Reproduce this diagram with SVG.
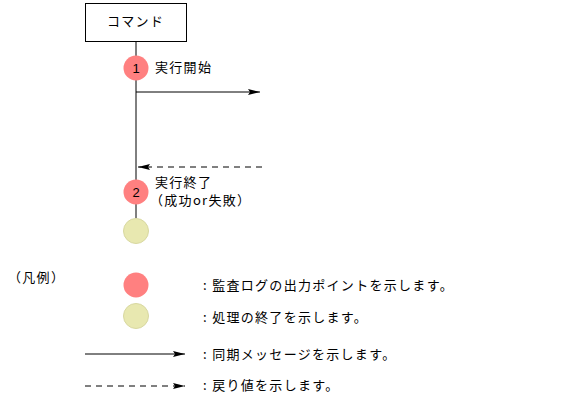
<svg xmlns="http://www.w3.org/2000/svg" width="581" height="409" viewBox="0 0 581 409">
<defs>
<style>
text{font-family:"Noto Sans CJK JP","Liberation Sans",sans-serif;font-size:13px;letter-spacing:1.3px;fill:#000}
.ln{stroke:#000;stroke-width:1;fill:none}
.dash{stroke-dasharray:6,5}
.red{fill:#FF8080}
.yel{fill:#E8E8B0;stroke:#D8D8A0;stroke-width:1}
.num{font-family:"Liberation Sans",sans-serif;font-size:13px;letter-spacing:0;text-anchor:middle}
</style>
<marker id="ah" markerWidth="12" markerHeight="8" refX="12" refY="4" orient="auto" markerUnits="userSpaceOnUse">
<path d="M0,1 L12,4 L0,7 L2,4 Z" fill="#000"/>
</marker>
</defs>
<g id="connectors">
<line class="ln" x1="136" y1="41" x2="136" y2="218"/>
<line class="ln" x1="136" y1="92" x2="260" y2="92" marker-end="url(#ah)"/>
<line class="ln dash" x1="262" y1="167" x2="138" y2="167" marker-end="url(#ah)"/>
<line class="ln" x1="85" y1="354" x2="185" y2="354" marker-end="url(#ah)"/>
<line class="ln dash" x1="85" y1="386" x2="185" y2="386" marker-end="url(#ah)"/>
</g>
<g id="command">
<rect x="85.5" y="3.5" width="101" height="38" fill="#fff" stroke="#000"/>
<text x="107" y="26">コマンド</text>
</g>
<g id="point1">
<circle class="red" cx="136" cy="68" r="12.5"/>
<text class="num" x="136" y="73">1</text>
<text x="155" y="72">実行開始</text>
</g>
<g id="point2">
<circle class="red" cx="136" cy="192" r="12.5"/>
<text class="num" x="136" y="197">2</text>
<text x="155" y="187">実行終了</text>
<text x="150" y="205">（成功or失敗）</text>
</g>
<g id="end">
<circle class="yel" cx="136" cy="231" r="12.5"/>
</g>
<g id="legend">
<text x="8" y="282">（凡例）</text>
<circle class="red" cx="136" cy="285" r="12.5"/>
<text x="203" y="290">: 監査ログの出力ポイントを示します。</text>
<circle class="yel" cx="136" cy="316" r="12.5"/>
<text x="203" y="322">: 処理の終了を示します。</text>
<text x="203" y="359">: 同期メッセージを示します。</text>
<text x="203" y="390">: 戻り値を示します。</text>
</g>
</svg>
